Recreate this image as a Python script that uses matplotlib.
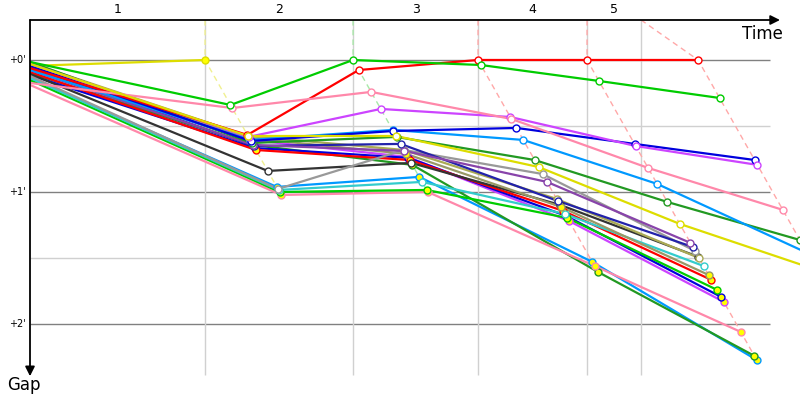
import matplotlib
matplotlib.use("Agg")
import matplotlib.pyplot as plt
import matplotlib.transforms as mtransforms

# lap boundaries (time, min) and leader crossing times
lap_marks = [2.346, 4.33, 6.005, 7.466, 8.19]
leader_times = [2.346, 4.33, 6.005, 7.466, 8.954]
lap_labels = ["1", "2", "3", "4", "5"]
lap_line_colors = ["#f0f090", "#a8e8a8", "#ffa8a8", "#ffa8a8", "#ffa8a8"]

# cars
car_colors = ["#dddd00", "#00cc00", "#ff88aa", "#ff0000", "#cc44ff", "#0000dd",
              "#0099ff", "#229922", "#8844aa", "#2222aa", "#999999", "#aaaa55",
              "#999966", "#333333", "#33cccc", "#ff0000", "#00cc00", "#0000dd",
              "#cc44ff", "#ff88aa", "#229922", "#0099ff", "#dddd00"]
car_second = [False, False, False, False, False, False,
              False, False, False, False, False, False,
              True, False, False, True, True, True,
              True, True, True, True, True]

# gap to leader (min) at start and after each lap
gap_start = [0.03, 0.015, 0.174, 0.061, 0.03, 0.045, 0.076, 0.015, 0.076, 0.053, 0.121,
             0.023, 0.03, 0.106, 0.136, 0.091, 0.152, 0.114, 0.076, 0.189, 0.098, 0.136,
             0.045]
gap_lap1 = [0.576, 0.341, 0.364, 0.568, 0.583, 0.614, 0.606, 0.629, 0.644, 0.652, 0.977,
            0.576, 0.591, 0.841, 0.985, 0.682, 1.0, 0.667, 0.606, 1.023, 0.644, 0.962,
            0.0]
gap_lap2 = [0.576, 0.0, 0.242, 0.076, 0.371, 0.538, 0.530, 0.583, 0.689, 0.636, 0.682,
            0.682, 0.712, 0.780, 0.924, 0.758, 0.985, 0.742, 0.735, 1.0, 0.795, 0.886,
            None]
gap_lap3 = [0.811, 0.038, 0.447, 0.0, 0.432, 0.515, 0.606, 0.758, 0.924, 1.068, 0.864,
            1.053, 1.114, 1.098, 1.167, 1.144, 1.197, 1.182, 1.220, 1.561, 1.606, 1.530,
            None]
gap_lap4 = [1.242, 0.159, 0.818, 0.0, 0.652, 0.636, 0.939, 1.076, 1.386, 1.417, 1.447,
            1.5, 1.629, 1.492, 1.561, 1.667, 1.742, 1.795, 1.833, 2.061, 2.242, 2.273,
            None]
gap_lap5 = [1.591, 0.288, 1.136, 0.0, 0.795, 0.758, 1.462, 1.364, None, None, None,
            None, None, None, None, None, None, None, None, None, None, None,
            None]

gap_major = [0, 1, 2]
gap_minor = [0.5, 1.5]

fig = plt.figure(figsize=(8, 4), dpi=100)
ax = fig.add_axes([30 / 800, 22 / 400, 770 / 800, 358 / 400])
ax.set_xlim(0, 10.32)
ax.set_ylim(2.41, -0.303)
ax.axis("off")

# grid
ax.hlines(gap_minor, 0, 9.92, color="#d0d0d0", lw=1, zorder=0)
ax.hlines(gap_major, 0, 9.92, color="#808080", lw=1, zorder=0)
ax.vlines(lap_marks, -0.303, 2.386, color="#d0d0d0", lw=1, zorder=0)

laps = [gap_lap1, gap_lap2, gap_lap3, gap_lap4, gap_lap5]

# lap lines
for k in range(5):
    g = [v for v in laps[k] if v is not None]
    gmax = max(g)
    xs = [lap_marks[k], leader_times[k], leader_times[k] + gmax]
    ys = [-0.303, 0, gmax]
    ax.plot(xs, ys, color=lap_line_colors[k], lw=1, ls=(0, (4, 3)), zorder=1)

# cars
for i in reversed(range(len(car_colors))):
    xs = [0]
    ys = [gap_start[i]]
    for k in range(5):
        g = laps[k][i]
        if g is None:
            continue
        xs.append(leader_times[k] + g)
        ys.append(g)
    fc = "#ffff00" if car_second[i] else "white"
    ax.plot(xs, ys, color=car_colors[i], lw=1.6, zorder=2)
    ax.plot(xs[1:], ys[1:], ls="none", marker="o", ms=5, mfc=fc,
            mec=car_colors[i], mew=1, zorder=3)

# axes arrows
ax.annotate("", xy=(0.974, 1), xytext=(0, 1), xycoords="axes fraction",
            arrowprops=dict(arrowstyle="-|>", color="black", lw=1.3,
                            mutation_scale=14, shrinkA=0, shrinkB=0),
            annotation_clip=False)
ax.annotate("", xy=(0, 0.005), xytext=(0, 1), xycoords="axes fraction",
            arrowprops=dict(arrowstyle="-|>", color="black", lw=1.3,
                            mutation_scale=14, shrinkA=0, shrinkB=0),
            annotation_clip=False)

ax.text(0.951, 0.96, "Time", transform=ax.transAxes, ha="center", va="center",
        fontsize=12)
fig.text(24 / 800, 1 - 385 / 400, "Gap", ha="center", va="center", fontsize=12)

# lap numbers
bounds = [0] + lap_marks
trans_top = mtransforms.blended_transform_factory(ax.transData, ax.transAxes)
for k in range(5):
    mid = (bounds[k] + bounds[k + 1]) / 2
    ax.text(mid, 1.01, lap_labels[k], transform=trans_top, ha="center",
            va="bottom", fontsize=9, clip_on=False)

# gap labels
trans_left = mtransforms.blended_transform_factory(ax.transAxes, ax.transData)
for g in gap_major:
    ax.text(-0.006, g, "+%d'" % g, transform=trans_left, ha="right", va="center",
            fontsize=7, clip_on=False)

fig.savefig("out.png", dpi=100)
